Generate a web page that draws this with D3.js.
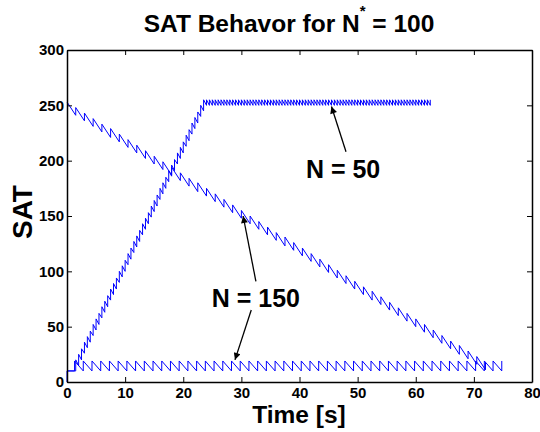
<!DOCTYPE html>
<html>
<head>
<meta charset="utf-8">
<script src="https://cdn.jsdelivr.net/npm/d3@7"></script>
<style>
  body { margin: 0; background: #fff; }
  text { font-family: "Liberation Sans", Arial, sans-serif; font-weight: bold; }
</style>
</head>
<body>
<div id="graph"></div>
<script>
// x / y ticks
var xTicks = [0, 10, 20, 30, 40, 50, 60, 70, 80];
var yTicks = [0, 50, 100, 150, 200, 250, 300];

// N = 50 : rising sawtooth then plateau (jump times, value before jump, value after jump)
var n50Time = [0,
  1.5, 2.0, 2.5, 3.0, 3.5, 4.0, 4.5, 5.0, 5.5, 6.0, 6.5, 7.0, 7.5, 8.0, 8.5,
  9.0, 9.5, 10.0, 10.5, 11.0, 11.5, 12.0, 12.5, 13.0, 13.5, 14.0, 14.5, 15.0, 15.5, 16.0,
  16.5, 17.0, 17.5, 18.0, 18.5, 19.0, 19.5, 20.0, 20.5, 21.0, 21.5, 22.0, 22.5, 23.0, 23.5,
  24.0, 24.5, 25.0, 25.5, 26.0, 26.5, 27.0, 27.5, 28.0, 28.5, 29.0, 29.5, 30.0,
  30.5, 31.0, 31.5, 32.0, 32.5, 33.0, 33.5, 34.0, 34.5, 35.0, 35.5, 36.0, 36.5, 37.0,
  37.5, 38.0, 38.5, 39.0, 39.5, 40.0, 40.5, 41.0, 41.5, 42.0, 42.5, 43.0, 43.5, 44.0,
  44.5, 45.0, 45.5, 46.0, 46.5, 47.0, 47.5, 48.0, 48.5, 49.0, 49.5, 50.0, 50.5, 51.0,
  51.5, 52.0, 52.5, 53.0, 53.5, 54.0, 54.5, 55.0, 55.5, 56.0, 56.5, 57.0, 57.5, 58.0,
  58.5, 59.0, 59.5, 60.0, 60.5, 61.0, 61.5, 62.0, 62.5];
var n50Low = [10,
  10, 15, 20, 26, 31, 36, 42, 47, 52, 58, 63, 68, 74, 79, 84,
  90, 95, 100, 106, 111, 117, 122, 127, 133, 138, 143, 149, 154, 159, 165,
  170, 175, 181, 186, 191, 197, 202, 207, 213, 218, 224, 229, 234, 240, 245,
  250, 250, 250, 250, 250, 250, 250, 250, 250, 250, 250, 250, 250,
  250, 250, 250, 250, 250, 250, 250, 250, 250, 250, 250, 250, 250, 250,
  250, 250, 250, 250, 250, 250, 250, 250, 250, 250, 250, 250, 250, 250,
  250, 250, 250, 250, 250, 250, 250, 250, 250, 250, 250, 250, 250, 250,
  250, 250, 250, 250, 250, 250, 250, 250, 250, 250, 250, 250, 250, 250,
  250, 250, 250, 250, 250, 250, 250, 250, 250];
var n50High = [10,
  20, 25, 30, 36, 41, 46, 52, 57, 62, 68, 73, 78, 84, 89, 94,
  100, 105, 110, 116, 121, 127, 132, 137, 143, 148, 153, 159, 164, 169, 175,
  180, 185, 191, 196, 201, 207, 212, 217, 223, 228, 234, 239, 244, 250, 255,
  255, 255, 255, 255, 255, 255, 255, 255, 255, 255, 255, 255, 255,
  255, 255, 255, 255, 255, 255, 255, 255, 255, 255, 255, 255, 255, 255,
  255, 255, 255, 255, 255, 255, 255, 255, 255, 255, 255, 255, 255, 255,
  255, 255, 255, 255, 255, 255, 255, 255, 255, 255, 255, 255, 255, 255,
  255, 255, 255, 255, 255, 255, 255, 255, 255, 255, 255, 255, 255, 255,
  255, 255, 255, 255, 255, 255, 255, 255, 255];

// N = 150 : descending sawtooth
var n150aTime = [0,
  1.5, 3, 4.5, 6, 7.5, 9, 10.5, 12, 13.5, 15, 16.5, 18, 19.5, 21, 22.5, 24,
  25.5, 27, 28.5, 30, 31.5, 33, 34.5, 36, 37.5, 39, 40.5, 42, 43.5, 45, 46.5, 48,
  49.5, 51, 52.5, 54, 55.5, 57, 58.5, 60, 61.5, 63, 64.5, 66, 67.5, 69, 70.5, 72];
var n150aLow = [253,
  241, 236, 231, 226, 221, 217, 212, 207, 202, 197, 192, 187, 182, 177, 172, 168,
  163, 158, 153, 148, 143, 138, 133, 128, 123, 119, 114, 109, 104, 99, 94, 89,
  84, 79, 74, 70, 65, 60, 55, 50, 45, 40, 35, 30, 25, 21, 16, 11];
var n150aHigh = [253,
  248, 243, 238, 233, 229, 224, 219, 214, 209, 204, 199, 194, 189, 184, 180, 175,
  170, 165, 160, 155, 150, 145, 140, 135, 131, 126, 121, 116, 111, 106, 101, 96,
  91, 86, 82, 77, 72, 67, 62, 57, 52, 47, 42, 37, 33, 28, 23, 18];

// N = 150 : low sawtooth along the bottom
var n150bTime = [0,
  1.3, 2.8, 4.3, 5.8, 7.3, 8.8, 10.3, 11.8, 13.3, 14.8, 16.3, 17.8, 19.3, 20.8, 22.3,
  23.8, 25.3, 26.8, 28.3, 29.8, 31.3, 32.8, 34.3, 35.8, 37.3, 38.8, 40.3, 41.8, 43.3,
  44.8, 46.3, 47.8, 49.3, 50.8, 52.3, 53.8, 55.3, 56.8, 58.3, 59.8, 61.3, 62.8, 64.3,
  65.8, 67.3, 68.8, 70.3, 71.8, 73.3, 74.8];
var n150bLow = [0,
  10, 10, 10, 10, 10, 10, 10, 10, 10, 10, 10, 10, 10, 10, 10,
  10, 10, 10, 10, 10, 10, 10, 10, 10, 10, 10, 10, 10, 10,
  10, 10, 10, 10, 10, 10, 10, 10, 10, 10, 10, 10, 10, 10,
  10, 10, 10, 10, 10, 10, 10];
var n150bHigh = [10,
  19, 19, 19, 19, 19, 19, 19, 19, 19, 19, 19, 19, 19, 19, 19,
  19, 19, 19, 19, 19, 19, 19, 19, 19, 19, 19, 19, 19, 19,
  19, 19, 19, 19, 19, 19, 19, 19, 19, 19, 19, 19, 19, 19,
  19, 19, 19, 19, 19, 19, 19];

// annotations: label, text position (data), arrows [tipX, tipY, tailX, tailY] (data)
var notes = [
  { label: "N = 50",  x: 47.5, y: 184, arrows: [[45.5, 249, 48, 208]] },
  { label: "N = 150", x: 32.5, y: 68, arrows: [[30.3, 150, 32.5, 91], [28.9, 20, 31.7, 65]] }
];

var width = 540, height = 432;

var svg = d3.select("#graph")
  .append("svg")
    .attr("width", width)
    .attr("height", height);

var x = d3.scaleLinear().domain([0, 80]).range([67, 532]);
var y = d3.scaleLinear().domain([0, 300]).range([382, 50]);

// turn jump arrays into vertices: (t, low) -> (t, high) -> next
function steps(t, lo, hi) {
  var pts = [];
  for (var i = 0; i < t.length; i++) {
    pts.push([t[i], lo[i]]);
    pts.push([t[i], hi[i]]);
  }
  return pts;
}

var line = d3.line()
  .x(function(d) { return x(d[0]); })
  .y(function(d) { return y(d[1]); });

var plot = svg.append("g");
[[n150bTime, n150bLow, n150bHigh], [n150aTime, n150aLow, n150aHigh], [n50Time, n50Low, n50High]]
  .forEach(function(s) {
    plot.append("path")
      .datum(steps(s[0], s[1], s[2]))
      .attr("fill", "none")
      .attr("stroke", "#0000ff")
      .attr("stroke-width", 1)
      .attr("d", line);
  });

// box + inward ticks on all four sides
var tl = 5;
svg.append("g").attr("transform", "translate(0," + y(0) + ")")
  .call(d3.axisBottom(x).tickValues(xTicks).tickSizeInner(-tl).tickSizeOuter(0).tickPadding(5));
svg.append("g").attr("transform", "translate(0," + y(300) + ")")
  .call(d3.axisTop(x).tickValues(xTicks).tickSizeInner(-tl).tickSizeOuter(0).tickFormat(""));
svg.append("g").attr("transform", "translate(" + x(0) + ",0)")
  .call(d3.axisLeft(y).tickValues(yTicks).tickSizeInner(-tl).tickSizeOuter(0).tickPadding(3));
svg.append("g").attr("transform", "translate(" + x(80) + ",0)")
  .call(d3.axisRight(y).tickValues(yTicks).tickSizeInner(-tl).tickSizeOuter(0).tickFormat(""));

svg.selectAll(".domain").attr("stroke", "#000").attr("stroke-width", 1.5);
svg.selectAll(".tick line").attr("stroke", "#000").attr("stroke-width", 1);
svg.selectAll(".tick text")
  .attr("fill", "#000")
  .style("font-size", "15px")
  .style("font-family", "'Liberation Sans', Arial, sans-serif")
  .style("font-weight", "bold");

// title with superscript star
var title = svg.append("text")
  .attr("x", 289).attr("y", 32)
  .attr("text-anchor", "middle")
  .style("font-size", "24.5px");
title.append("tspan").text("SAT Behavor for N");
title.append("tspan").attr("dy", -16).style("font-size", "15px").text("*");
title.append("tspan").attr("dy", 16).text(" = 100");

svg.append("text")
  .attr("transform", "translate(32,212) rotate(-90)")
  .attr("text-anchor", "middle")
  .style("font-size", "28px")
  .text("SAT");

svg.append("text")
  .attr("x", 299).attr("y", 423)
  .attr("text-anchor", "middle")
  .style("font-size", "24.5px")
  .text("Time [s]");

// annotation arrows
svg.append("defs").append("marker")
  .attr("id", "head")
  .attr("viewBox", "0 0 10 10")
  .attr("refX", 10).attr("refY", 5)
  .attr("markerWidth", 9).attr("markerHeight", 7)
  .attr("markerUnits", "userSpaceOnUse")
  .attr("orient", "auto")
  .append("path").attr("d", "M0,0L10,5L0,10z").attr("fill", "#000");

notes.forEach(function(n) {
  svg.append("text")
    .attr("x", x(n.x)).attr("y", y(n.y))
    .attr("text-anchor", "middle")
    .style("font-size", "25px")
    .text(n.label);
  n.arrows.forEach(function(a) {
    svg.append("line")
      .attr("x1", x(a[2])).attr("y1", y(a[3]))
      .attr("x2", x(a[0])).attr("y2", y(a[1]))
      .attr("stroke", "#000").attr("stroke-width", 1.3)
      .attr("marker-end", "url(#head)");
  });
});
</script>
</body>
</html>
